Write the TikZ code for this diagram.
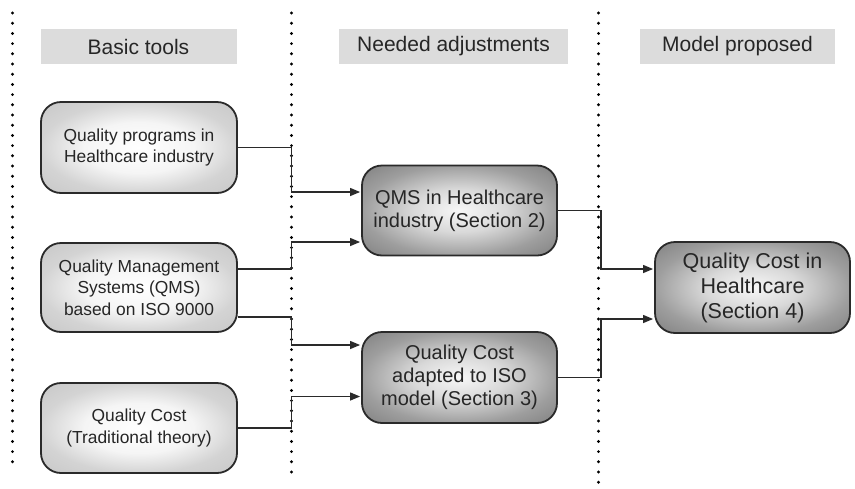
\documentclass[tikz,border=0pt]{standalone}
\usepackage{fontspec}
\setmainfont{Liberation Sans}
\usetikzlibrary{arrows.meta,calc}
\definecolor{edge}{HTML}{2A2A2A}
\definecolor{ink}{HTML}{262626}
\definecolor{headfill}{HTML}{DCDCDC}
% soft radial fills: light centre fading to the box outline
\pgfdeclareradialshading{lightglow}{\pgfpoint{0bp}{0bp}}{%
  color(0bp)=(white); color(14bp)=(white!96!black); color(25bp)=(white!83!black);
  color(36bp)=(white!78!black); color(50bp)=(white!78!black)}
\pgfdeclareradialshading{darkglow}{\pgfpoint{0bp}{0bp}}{%
  color(0bp)=(white!97!black); color(12bp)=(white!85!black); color(25bp)=(white!62!black);
  color(36bp)=(white!50!black); color(50bp)=(white!50!black)}
\tikzset{
  divider/.style={line width=3.2pt, dash pattern=on 0pt off 10.2pt, line cap=round, black},
  header/.style={fill=headfill, minimum width=196pt, minimum height=35pt, inner sep=0pt,
    text=ink, font=\fontsize{21}{25}\selectfont},
  toolbox/.style={draw=edge, line width=1.8pt, rounded corners=20pt, align=center, text=ink,
    shading=lightglow, minimum width=196pt, minimum height=90pt,
    inner sep=0pt, font=\fontsize{17.4}{21.7}\selectfont},
  stagebox/.style={draw=edge, line width=1.8pt, rounded corners=20pt, align=center, text=ink,
    shading=darkglow, minimum width=195pt, minimum height=90pt,
    inner sep=0pt},
  conn/.style={draw=edge, line width=1.2pt},
  arrowconn/.style={conn, -{Triangle[length=10pt,width=8pt]}},
}
\begin{document}
\begin{tikzpicture}[x=1pt,y=-1pt]
\useasboundingbox (0,0) rectangle (855,488);

% column dividers
\draw[divider] (12.5,13) -- (12.5,468);
\draw[divider] (291.5,13) -- (291.5,478);
\draw[divider] (598.5,13) -- (598.5,488);

% column headers
\node[header] (h1) at (138.5,46.5) {Basic tools};
\node[header, minimum width=229pt] (h2) at (453.5,46.5) {Needed adjustments};
\node[header, minimum width=195pt] (h3) at (737.5,46.5) {Model proposed};

% basic tools
\node[toolbox, minimum height=91pt] (b1) at (139,147.5) {Quality programs in\\Healthcare industry};
\node[toolbox, minimum height=89pt] (b2) at (139,287.5) {Quality Management\\Systems (QMS)\\based on ISO 9000};
\node[toolbox] (b3) at (139,428) {Quality Cost\\(Traditional theory)};

% adjustments
\node[stagebox, font=\fontsize{20}{23}\selectfont] (qms) at (459.5,210.5) {QMS in Healthcare\\industry (Section 2)};
\node[stagebox, minimum height=91pt, font=\fontsize{20}{23}\selectfont] (qc) at (459.5,377.5) {Quality Cost\\adapted to ISO\\model (Section 3)};

% proposed model
\node[stagebox, minimum height=91pt, font=\fontsize{21.5}{25}\selectfont] (qch) at (752.5,287.5) {Quality Cost in\\Healthcare\\(Section 4)};

% connectors: basic tools -> adjustments
\coordinate (j1) at (291.5,0);
\draw[arrowconn] (b1.east) -- (b1.east -| j1) |- ($(qms.west)+(-1,-18.5)$);
\draw[arrowconn] ($(b2.east)+(0,-18.5)$) -- ($(b2.east -| j1)+(0,-18.5)$) |- ($(qms.west)+(-1,31.5)$);
\draw[arrowconn] ($(b2.east)+(0,29.5)$) -- ($(b2.east -| j1)+(0,29.5)$) |- ($(qc.west)+(-1,-32.5)$);
\draw[arrowconn] (b3.east) -- (b3.east -| j1) |- ($(qc.west)+(-1,19)$);

% connectors: adjustments -> proposed model
\coordinate (j2) at (601,0);
\draw[arrowconn] (qms.east) -- (qms.east -| j2) |- ($(qch.west)+(-1,-18.5)$);
\draw[arrowconn] (qc.east) -- (qc.east -| j2) |- ($(qch.west)+(-1,31.5)$);
\end{tikzpicture}
\end{document}
